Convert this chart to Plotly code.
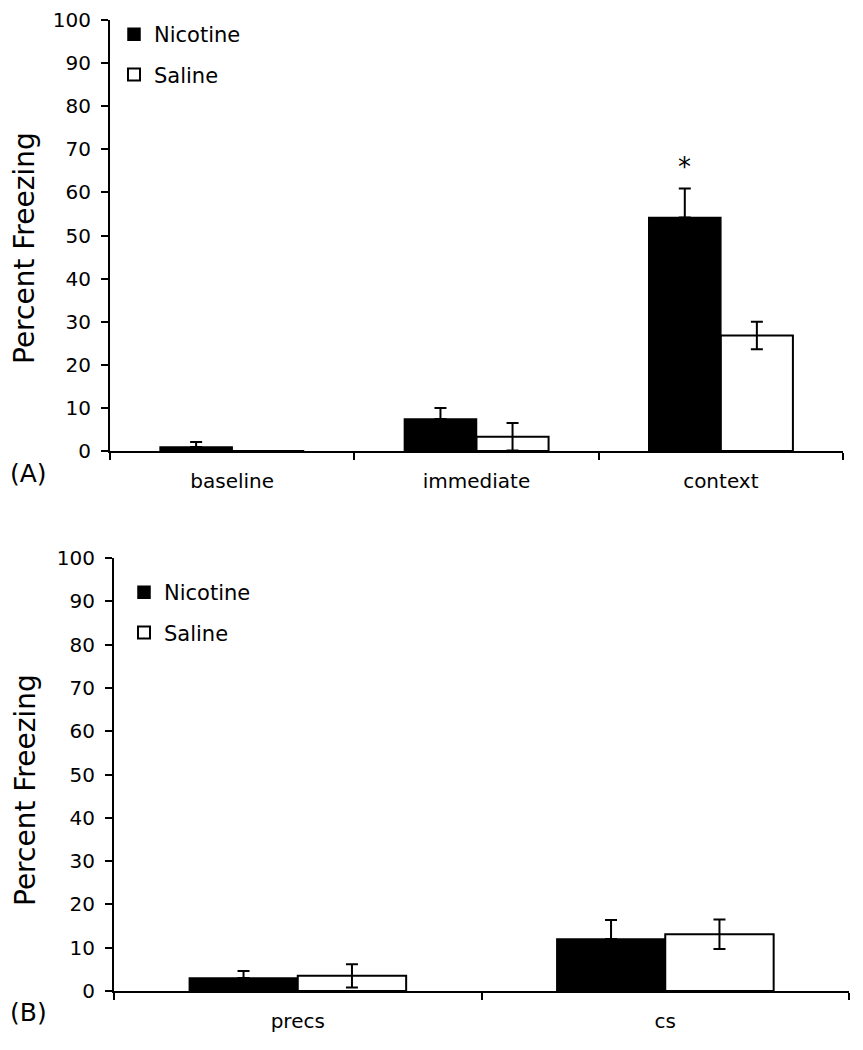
import plotly.graph_objects as go

# Panel A data
cats_a = ["baseline", "immediate", "context"]
nic_a = [0.9, 7.4, 54.2]
nic_a_err = [1.2, 2.6, 6.7]
sal_a = [0.0, 3.3, 26.8]
sal_a_err = [0.0, 3.2, 3.2]

# Panel B data
cats_b = ["precs", "cs"]
nic_b = [3.0, 12.0]
nic_b_err = [1.6, 4.4]
sal_b = [3.5, 13.1]
sal_b_err = [2.7, 3.4]

y_ticks = list(range(0, 101, 10))

FONT = "DejaVu Sans, sans-serif"
W, H = 863, 1050
OFF = 8  # page body margin


def xf(px):
    return (px - OFF) / W


def yf(py):
    return 1 - (py - OFF) / H


fig = go.Figure()


def add_pair(cats, nic, nic_err, sal, sal_err, xa, ya, leg):
    fig.add_trace(go.Bar(
        x=cats, y=nic, name="Nicotine", xaxis=xa, yaxis=ya, legend=leg,
        legendgroup=leg + "n",
        marker=dict(color="black", line=dict(color="black", width=1.5)),
        error_y=dict(type="data", array=nic_err, arrayminus=[0] * len(nic_err),
                     symmetric=False, color="black", thickness=2, width=6),
    ))
    fig.add_trace(go.Bar(
        x=cats, y=sal, name="Saline", xaxis=xa, yaxis=ya, legend=leg,
        legendgroup=leg + "s",
        marker=dict(color="white", line=dict(color="black", width=2)),
        error_y=dict(type="data", array=sal_err, color="black", thickness=2, width=6),
    ))


add_pair(cats_a, nic_a, nic_a_err, sal_a, sal_a_err, "x", "y", "legend")
add_pair(cats_b, nic_b, nic_b_err, sal_b, sal_b_err, "x2", "y2", "legend2")

xcommon = dict(type="category", showline=True, linecolor="black", linewidth=2,
               ticks="outside", tickson="boundaries", ticklen=7, tickwidth=2,
               tickcolor="black", showgrid=False, zeroline=False, automargin=False,
               ticklabelstandoff=11,
               tickfont=dict(family=FONT, size=20, color="black"))
ycommon = dict(range=[0, 100], tickvals=y_ticks, showline=True, linecolor="black",
               linewidth=2, ticks="outside", ticklen=7, tickwidth=2, tickcolor="black",
               showgrid=False, zeroline=False, automargin=False, ticklabelstandoff=6,
               tickfont=dict(family=FONT, size=20, color="black"))

legcommon = dict(font=dict(family=FONT, size=21, color="black"), bgcolor="rgba(0,0,0,0)",
                 xanchor="left", yanchor="top", tracegroupgap=10, itemwidth=30)

fig.update_layout(
    width=W, height=H,
    margin=dict(l=0, r=0, t=0, b=0, autoexpand=False),
    paper_bgcolor="white", plot_bgcolor="white",
    barmode="group", bargap=0.41, bargroupgap=0,
    xaxis=dict(domain=[xf(110), xf(843)], anchor="y", **xcommon),
    yaxis=dict(domain=[yf(451), yf(20)], anchor="x", **ycommon),
    xaxis2=dict(domain=[xf(114), xf(849)], anchor="y2", **xcommon),
    yaxis2=dict(domain=[yf(991), yf(558)], anchor="x2", **ycommon),
    legend=dict(x=xf(114), y=yf(14), **legcommon),
    legend2=dict(x=xf(124), y=yf(572), **legcommon),
    showlegend=True,
    annotations=[
        dict(text="Percent Freezing", textangle=-90, x=xf(25), y=yf(248),
             xref="paper", yref="paper", xanchor="center", yanchor="middle",
             showarrow=False, font=dict(family=FONT, size=28, color="black")),
        dict(text="Percent Freezing", textangle=-90, x=xf(25), y=yf(790),
             xref="paper", yref="paper", xanchor="center", yanchor="middle",
             showarrow=False, font=dict(family=FONT, size=28, color="black")),
        dict(text="(A)", x=xf(8), y=yf(473), xref="paper", yref="paper",
             xanchor="left", yanchor="middle", showarrow=False,
             font=dict(family=FONT, size=25, color="black")),
        dict(text="(B)", x=xf(8), y=yf(1012), xref="paper", yref="paper",
             xanchor="left", yanchor="middle", showarrow=False,
             font=dict(family=FONT, size=25, color="black")),
        dict(text="*", x="context", y=nic_a[2] + nic_a_err[2], xref="x", yref="y",
             xshift=-36, yshift=22, showarrow=False,
             font=dict(family=FONT, size=26, color="black")),
    ],
)

fig.write_html("out.html")
